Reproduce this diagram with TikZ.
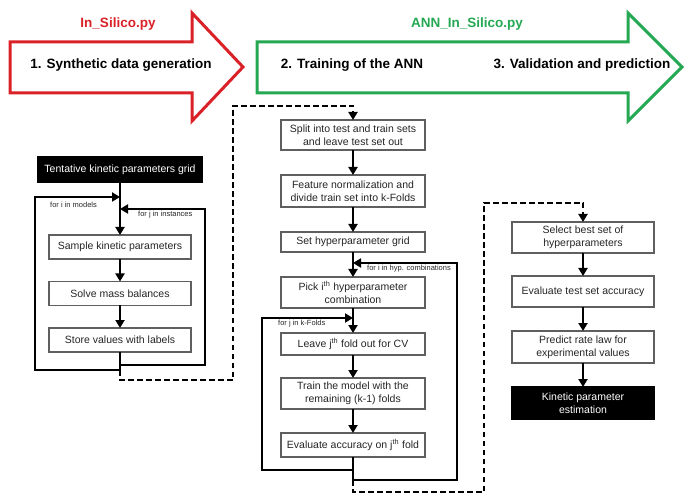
\documentclass[tikz,border=0pt]{standalone}
\usepackage{fontspec}
\setmainfont{Liberation Sans}
\usetikzlibrary{arrows.meta}
\definecolor{myred}{RGB}{218,33,40}
\definecolor{mygreen}{RGB}{36,168,82}
\definecolor{boxgray}{RGB}{95,95,95}
\begin{document}
\begin{tikzpicture}[x=1pt,y=-1pt,
 box/.style={draw=boxgray, line width=1.2pt, fill=white, inner sep=1pt, outer sep=0pt, align=center, font=\fontsize{10.5}{13}\selectfont, text=black!85},
 blackbox/.style={box, fill=black, draw=black, text=white},
 conn/.style={line width=2pt, -{Triangle[length=8pt,width=9pt]}},
 plainline/.style={line width=2pt, line join=miter},
 loopconn/.style={line width=2pt, line join=miter, -{Triangle[length=8pt,width=9pt]}},
 dashconn/.style={line width=2pt, dash pattern=on 5.5pt off 3.5pt, -{Triangle[length=8pt,width=9pt]}},
 lbl/.style={font=\fontsize{7.5}{9}\selectfont, anchor=west, inner sep=0pt, text=black!85},
 head/.style={font=\bfseries\fontsize{13.5}{16}\selectfont, inner sep=0pt},
 bigarrow/.style={line width=3pt, line join=miter, miter limit=10, fill=white}
]
\useasboundingbox (0,0) rectangle (690,502);

% big arrows
\draw[bigarrow, draw=myred] (10,42) -- (192,42) -- (192,13) -- (243,67) -- (192,121) -- (192,93) -- (10,93) -- cycle;
\draw[bigarrow, draw=mygreen] (257,42) -- (628,42) -- (628,13) -- (682,67) -- (628,121) -- (628,93) -- (257,93) -- cycle;
\node[head, text=myred] (t1) at (118,24) {In\_Silico.py};
\node[head, text=mygreen] (t2) at (467,24) {ANN\_In\_Silico.py};
\node[head] (h1) at (121,65) {1. Synthetic data generation};
\node[head] (h2) at (352,65) {2. Training of the ANN};
\node[head] (h3) at (582,65) {3. Validation and prediction};

% left column
\node[blackbox, minimum width=164pt, minimum height=25pt] (g1) at (120,169.5) {Tentative kinetic parameters grid};
\node[box, minimum width=142pt, minimum height=24pt] (s1) at (120,247) {Sample kinetic parameters};
\node[box, minimum width=142pt, minimum height=24pt] (s2) at (120,293.5) {Solve mass balances};
\node[box, minimum width=142pt, minimum height=24pt] (s3) at (120,340) {Store values with labels};
\coordinate (ia) at (120,197);
\coordinate (ja) at (120,209);
\coordinate (jb) at (120,365);
\coordinate (ib) at (120,370);
\coordinate (db) at (120,380);

\draw[conn] (g1.south) -- (s1.north);
\draw[conn] (s1.south) -- (s2.north);
\draw[conn] (s2.south) -- (s3.north);
\draw[plainline] (s3.south) -- (ib);
\draw[loopconn] (ib) -- (35,370) -- (35,197) -- (ia);
\draw[loopconn] (jb) -- (205,365) -- (205,209) -- (ja);
\node[lbl] (li) at (50,205) {for i in models};
\node[lbl] (lj) at (138,215) {for j in instances};

% middle column
\node[box, minimum width=144pt, minimum height=30pt] (m1) at (353,135) {Split into test and train sets\\and leave test set out};
\node[box, minimum width=144pt, minimum height=32pt] (m2) at (353,191) {Feature normalization and\\divide train set into k-Folds};
\node[box, minimum width=144pt, minimum height=20pt] (m3) at (353,242) {Set hyperparameter grid};
\node[box, minimum width=144pt, minimum height=31pt] (m4) at (353,292.5) {Pick i\textsuperscript{th} hyperparameter\\combination};
\node[box, minimum width=144pt, minimum height=22pt] (m5) at (353,344) {Leave j\textsuperscript{th} fold out for CV};
\node[box, minimum width=144pt, minimum height=31pt] (m6) at (353,393.5) {Train the model with the\\remaining (k-1) folds};
\node[box, minimum width=144pt, minimum height=24pt] (m7) at (353,445) {Evaluate accuracy on j\textsuperscript{th} fold};
\coordinate (ha) at (353,263);
\coordinate (ka) at (353,318);
\coordinate (kb) at (353,470);
\coordinate (hb) at (353,480);
\coordinate (db2) at (353,492);

\draw[dashconn] (ib) -- (db) -- (233,380) -- (233,106) -- (353,106) -- (m1.north);
\draw[conn] (m1.south) -- (m2.north);
\draw[conn] (m2.south) -- (m3.north);
\draw[conn] (m3.south) -- (m4.north);
\draw[conn] (m4.south) -- (m5.north);
\draw[conn] (m5.south) -- (m6.north);
\draw[conn] (m6.south) -- (m7.north);
\draw[plainline] (m7.south) -- (hb);
\draw[loopconn] (hb) -- (457,480) -- (457,263) -- (ha);
\draw[loopconn] (kb) -- (262,470) -- (262,318) -- (ka);
\node[lbl] (lh) at (367,268.5) {for i in hyp. combinations};
\node[lbl] (lk) at (278,324) {for j in k-Folds};

% right column
\node[box, minimum width=142pt, minimum height=31pt] (r1) at (583,237.5) {Select best set of\\hyperparameters};
\node[box, minimum width=142pt, minimum height=31pt] (r2) at (583,291.5) {Evaluate test set accuracy};
\node[box, minimum width=142pt, minimum height=32pt] (r3) at (583,347) {Predict rate law for\\experimental values};
\node[blackbox, minimum width=142pt, minimum height=32pt] (r4) at (583,403) {Kinetic parameter\\estimation};

\draw[dashconn] (hb) -- (db2) -- (484,492) -- (484,203) -- (583,203) -- (r1.north);
\draw[conn] (r1.south) -- (r2.north);
\draw[conn] (r2.south) -- (r3.north);
\draw[conn] (r3.south) -- (r4.north);
\end{tikzpicture}
\end{document}
